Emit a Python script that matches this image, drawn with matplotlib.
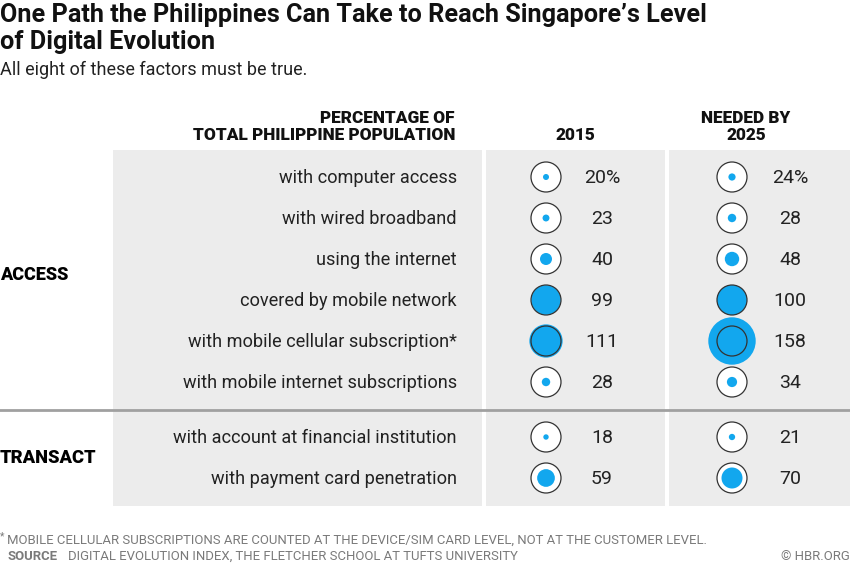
import matplotlib.pyplot as plt
from matplotlib.patches import Circle, Rectangle

# ---------- DATA ----------
access_labels = [
    "with computer access",
    "with wired broadband",
    "using the internet",
    "covered by mobile network",
    "with mobile cellular subscription*",
    "with mobile internet subscriptions",
]
access_2015 = [20, 23, 40, 99, 111, 28]
access_2025 = [24, 28, 48, 100, 158, 34]

transact_labels = [
    "with account at financial institution",
    "with payment card penetration",
]
transact_2015 = [18, 59]
transact_2025 = [21, 70]

BLUE = "#12a7ee"
PANEL = "#ececec"
GREY_TXT = "#7a7a7a"
FONT = "Roboto"

fig = plt.figure(figsize=(8.5, 5.66), dpi=100)
ax = fig.add_axes([0, 0, 1, 1])
ax.set_xlim(0, 850)
ax.set_ylim(566, 0)
ax.axis("off")

# ---------- TITLE ----------
ax.text(0, 15, "One Path the Philippines Can Take to Reach Singapore’s Level",
        fontsize=18.2, fontweight="bold", family=FONT, va="center", color="#111")
ax.text(0, 42, "of Digital Evolution",
        fontsize=18.2, fontweight="bold", family=FONT, va="center", color="#111")
ax.text(0, 70, "All eight of these factors must be true.",
        fontsize=13, family=FONT, va="center", color="#222")

# ---------- HEADERS ----------
hdr = dict(fontsize=12.4, fontweight="black", family=FONT, va="center", color="#111")
ax.text(455, 118, "PERCENTAGE OF", ha="right", **hdr)
ax.text(455, 135, "TOTAL PHILIPPINE POPULATION", ha="right", **hdr)
ax.text(575, 135, "2015", ha="center", **hdr)
ax.text(746, 118, "NEEDED BY", ha="center", **hdr)
ax.text(746, 135, "2025", ha="center", **hdr)

# ---------- PANELS ----------
top, bottom = 150, 506
for x0, x1 in [(113, 482), (486, 665), (669, 850)]:
    ax.add_patch(Rectangle((x0, top), x1 - x0, bottom - top,
                           facecolor=PANEL, edgecolor="none", zorder=0))
ax.plot([0, 850], [410, 410], color="#a0a0a0", lw=2, zorder=1)

# ---------- ROWS ----------
labels = access_labels + transact_labels
vals_2015 = access_2015 + transact_2015
vals_2025 = access_2025 + transact_2025
row_y = [177 + 41 * i for i in range(6)] + [437, 478]

R = 15  # outline radius = 100%


def bubble(x, y, v):
    ax.add_patch(Circle((x, y), R, facecolor="white", edgecolor="none", zorder=2))
    ax.add_patch(Circle((x, y), R * v / 100, facecolor=BLUE, edgecolor="none", zorder=3))
    ax.add_patch(Circle((x, y), R, facecolor="none", edgecolor="#333", lw=0.9, zorder=4))


for i, (lab, a, b, y) in enumerate(zip(labels, vals_2015, vals_2025, row_y)):
    ax.text(457, y + 1, lab, fontsize=13.1, family=FONT, ha="right", va="center",
            color="#222")
    bubble(546, y, a)
    bubble(732, y, b)
    sa = f"{a}%" if i == 0 else str(a)
    sb = f"{b}%" if i == 0 else str(b)
    ax.text(602, y + 1, sa, fontsize=14, family=FONT, ha="center", va="center",
            color="#222")
    ax.text(790, y + 1, sb, fontsize=14, family=FONT, ha="center", va="center",
            color="#222")

ax.text(0, 275, "ACCESS", fontsize=13, fontweight="black", family=FONT, va="center")
ax.text(0, 458, "TRANSACT", fontsize=13.2, fontweight="black", family=FONT, va="center")

# ---------- FOOTER ----------
ax.text(0, 536, "*", fontsize=7.5, family=FONT, va="center", color=GREY_TXT)
ax.text(7, 540, "MOBILE CELLULAR SUBSCRIPTIONS ARE COUNTED AT THE DEVICE/SIM CARD LEVEL, NOT AT THE CUSTOMER LEVEL.",
        fontsize=9.45, family=FONT, va="center", color=GREY_TXT)
ax.text(8, 556, "SOURCE", fontsize=9.45, fontweight="bold", family=FONT,
        va="center", color=GREY_TXT)
ax.text(68, 556, "DIGITAL EVOLUTION INDEX, THE FLETCHER SCHOOL AT TUFTS UNIVERSITY",
        fontsize=9.45, family=FONT, va="center", color=GREY_TXT)
ax.text(850, 556, "© HBR.ORG", fontsize=9.45, family=FONT, ha="right",
        va="center", color=GREY_TXT)

fig.savefig("out.png", dpi=100)
